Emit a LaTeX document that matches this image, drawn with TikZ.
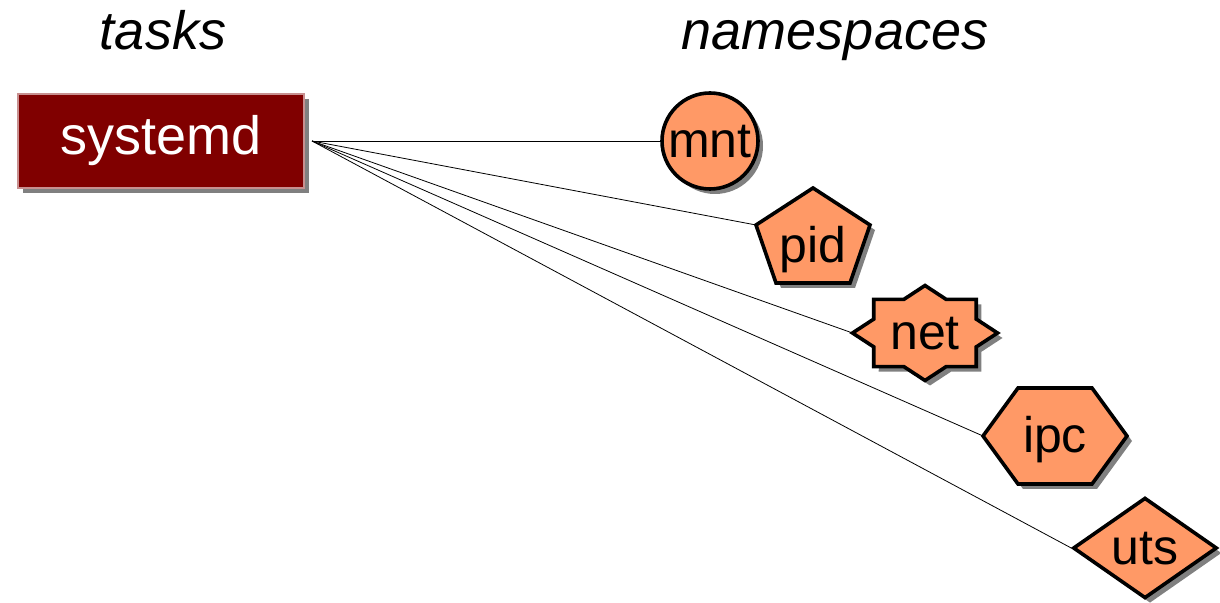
\documentclass[tikz,border=0pt]{standalone}
\usepackage{fontspec}
\setmainfont{Liberation Sans}
\usetikzlibrary{shapes.geometric, shadows, backgrounds, positioning}
\definecolor{tkMaroon}{HTML}{800000}
\definecolor{tkEdge}{HTML}{C89090}
\definecolor{nsSalmon}{HTML}{FF9966}
\definecolor{nsShadow}{HTML}{808080}

\begin{document}
\begin{tikzpicture}[x=0.5pt, y=-0.5pt,
  every node/.style={inner sep=0pt},
  heading/.style={font=\fontsize{27}{32}\selectfont\itshape, anchor=base},
  shade drop/.style={drop shadow={shadow xshift=2.5pt, shadow yshift=-2.5pt,
                                  fill=nsShadow, opacity=1}},
  task/.style={rectangle, fill=tkMaroon, draw=tkEdge, line width=0.6pt,
               text=white, font=\fontsize{27}{32}\selectfont,
               minimum width=143pt, minimum height=47pt, outer xsep=4pt, shade drop},
  ns/.style={font=\fontsize{25}{30}\selectfont, text height=17pt, text depth=0pt},
  nsborder/.style={fill=nsSalmon, draw=black, line width=1.8pt, shade drop},
  link/.style={draw=black, line width=0.4pt}]
  \useasboundingbox (0,0) rectangle (1220,603);

  % column heads
  \node[heading] (tasks)  at (163,50) {tasks};
  \node[heading] (nshead) at (835,50) {namespaces};

  % the task and its namespaces
  \node[task] (systemd) at (161,141) {systemd};
  \node[ns, circle, nsborder, minimum size=48pt] (mnt) at (710,141) {mnt};
  \node[ns] (pid) at (813,246) {pid};
  \node[ns] (net) at (925,333) {net};
  \node[ns] (ipc) at (1055,436) {ipc};
  \node[ns, diamond, nsborder, minimum width=72pt, minimum height=47pt] (uts) at (1145,548) {uts};

  \begin{scope}[on background layer]
    % outlines behind the labels
    \draw[nsborder, shift={(pid)}] (0,-58) -- (-57,-21) coordinate (pid port)
      -- (-37,37) -- (37,37) -- (57,-21) -- cycle;
    \draw[nsborder, shift={(net)}] (-72.5,0) coordinate (net port)
      \foreach \k in {1,...,15} {
        -- ({72.5*cos(180+22.5*\k)*(1-0.235*mod(\k,2))},
            {47.5*sin(180+22.5*\k)*(1-0.235*mod(\k,2))}) } -- cycle;
    \draw[nsborder, shift={(ipc)}] (-72,0) coordinate (ipc port)
      -- (-37,-48) -- (37,-48) -- (72,0) -- (37,48) -- (-37,48) -- cycle;

    \foreach \t in {mnt.west, pid port, net port, ipc port, uts.west}
      \draw[link] (systemd.east) -- (\t);
  \end{scope}
\end{tikzpicture}
\end{document}
